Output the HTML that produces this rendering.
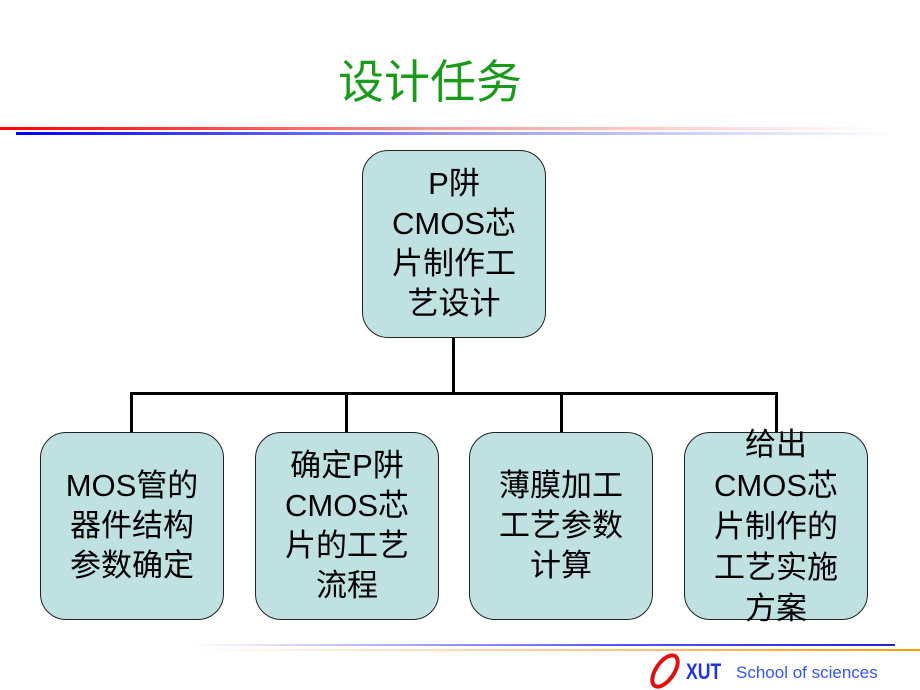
<!DOCTYPE html>
<html><head><meta charset="utf-8"><style>
body{margin:0;width:920px;height:690px;background:#fff;position:relative;overflow:hidden;font-family:"Liberation Sans","Noto Sans CJK SC",sans-serif}
.t{position:absolute;left:0;width:860px;top:46px;text-align:center;font-size:46px;color:#1a9a1a}
.box{position:absolute;width:182px;height:186px;background:#bfe1e2;border:1.5px solid #222;border-radius:26px;display:flex;align-items:center;justify-content:center;text-align:center;font-size:31px;line-height:40px;color:#000;box-sizing:border-box;letter-spacing:0}
.l{position:absolute;background:#000}
</style></head><body>
<div class="t">设计任务</div>
<div style="position:absolute;left:0;top:127px;width:880px;height:3px;background:linear-gradient(90deg,#f00,#f99 50%,#fff)"></div>
<div style="position:absolute;left:16px;top:132px;width:880px;height:3px;background:linear-gradient(90deg,#00f,#99e 50%,#fff)"></div>
<div style="position:absolute;left:190px;top:644px;width:705px;height:2px;background:linear-gradient(90deg,#fff,#55f 60%,#22d)"></div>
<div style="position:absolute;left:190px;top:649px;width:730px;height:2px;background:linear-gradient(90deg,#fff,#fc9 50%,#f90)"></div>
<div class="box" style="left:362px;top:150px;width:184px;height:188px">P阱<br>CMOS芯<br>片制作工<br>艺设计</div>
<div class="l" style="left:452px;top:338px;width:3px;height:56px"></div>
<div class="l" style="left:130px;top:392px;width:648px;height:3px"></div>
<div class="l" style="left:130px;top:392px;width:3px;height:40px"></div>
<div class="l" style="left:345px;top:392px;width:3px;height:40px"></div>
<div class="l" style="left:560px;top:392px;width:3px;height:40px"></div>
<div class="l" style="left:775px;top:392px;width:3px;height:40px"></div>
<div class="box" style="left:40px;top:432px;width:184px;height:188px">MOS管的<br>器件结构<br>参数确定</div>
<div class="box" style="left:255px;top:432px;width:184px;height:188px">确定P阱<br>CMOS芯<br>片的工艺<br>流程</div>
<div class="box" style="left:469px;top:432px;width:184px;height:188px">薄膜加工<br>工艺参数<br>计算</div>
<div class="box" style="left:684px;top:432px;width:184px;height:188px;line-height:41px">给出<br>CMOS芯<br>片制作的<br>工艺实施<br>方案</div>
<svg style="position:absolute;left:645px;top:652px" width="40" height="38"><ellipse cx="20" cy="19" rx="9" ry="18" transform="rotate(35 20 19)" fill="none" stroke="#e01010" stroke-width="4"/></svg>
<div style="position:absolute;left:686px;top:659px;font-size:22px;font-weight:bold;color:#2233dd;transform:scaleX(0.8);transform-origin:left">XUT</div>
<div style="position:absolute;left:736px;top:663px;font-size:17px;color:#3355ee">School of sciences</div>
</body></html>
